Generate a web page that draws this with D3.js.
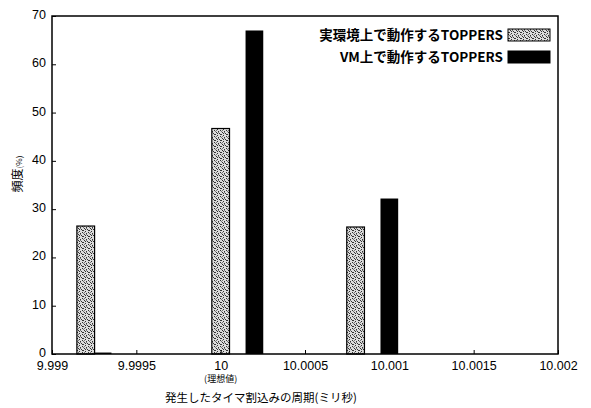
<!DOCTYPE html>
<html><head><meta charset="utf-8">
<script src="https://cdn.jsdelivr.net/npm/d3@7"></script>
<style>body{margin:0;background:#fff}svg{display:block}</style>
</head><body>
<svg id="c" width="591" height="408"></svg>
<script>
const seriesNames = ["実環境上で動作するTOPPERS", "VM上で動作するTOPPERS"];
const realX = [9.9992, 10.0000, 10.0008];
const realY = [26.5, 46.7, 26.3];
const vmX = [9.9993, 10.0002, 10.0010];
const vmY = [0.3, 67.0, 32.2];
const xTicks = [9.999, 9.9995, 10, 10.0005, 10.001, 10.0015, 10.002];
const xTickLabels = ["9.999", "9.9995", "10", "10.0005", "10.001", "10.0015", "10.002"];
const yTicks = [0, 10, 20, 30, 40, 50, 60, 70];
const binWidth = 0.000105;

const svg = d3.select("#c");
const m = {l: 52, r: 33, t: 16, b: 54};
const W = 591, H = 408;
const x = d3.scaleLinear().domain([9.999, 10.002]).range([m.l, W - m.r]);
const y = d3.scaleLinear().domain([0, 70]).range([H - m.b, m.t]);

// stipple pattern
const defs = svg.append("defs");
const pat = defs.append("pattern").attr("id", "stip").attr("patternUnits", "userSpaceOnUse")
  .attr("width", 6).attr("height", 6);
pat.append("rect").attr("width", 6).attr("height", 6).attr("fill", "#dcdcdc");
[[0,0],[3,1],[1,3],[4,4],[2,5],[5,2],[1,1],[4,2]].forEach(([a,b]) =>
  pat.append("rect").attr("x", a).attr("y", b).attr("width", 1).attr("height", 1).attr("fill", "#333"));
[[2,0],[5,5],[0,4]].forEach(([a,b]) =>
  pat.append("rect").attr("x", a).attr("y", b).attr("width", 1).attr("height", 1).attr("fill", "#777"));

const font = "'Liberation Sans', Arial, sans-serif";

// bars
const real = realX.map((v, i) => ({x: v, y: realY[i]}));
const vm = vmX.map((v, i) => ({x: v, y: vmY[i]}));
svg.append("g").selectAll("rect").data(real).join("rect")
  .attr("x", d => x(d.x - binWidth / 2)).attr("width", d => x(d.x + binWidth / 2) - x(d.x - binWidth / 2))
  .attr("y", d => y(d.y)).attr("height", d => y(0) - y(d.y))
  .attr("fill", "url(#stip)").attr("stroke", "#000").attr("stroke-width", 1.2);
svg.append("g").selectAll("rect").data(vm).join("rect")
  .attr("x", d => x(d.x - binWidth / 2)).attr("width", d => x(d.x + binWidth / 2) - x(d.x - binWidth / 2))
  .attr("y", d => y(d.y)).attr("height", d => Math.max(1, y(0) - y(d.y)))
  .attr("fill", "#000");

// axes
const xAxis = d3.axisBottom(x).tickValues(xTicks).tickFormat((d, i) => xTickLabels[i]).tickSize(-4).tickPadding(7);
const gx = svg.append("g").attr("transform", `translate(0,${H - m.b})`).call(xAxis);
const yAxis = d3.axisLeft(y).tickValues(yTicks).tickSize(-4).tickPadding(8);
const gy = svg.append("g").attr("transform", `translate(${m.l},0)`).call(yAxis);
[gx, gy].forEach(g => {
  g.select(".domain").remove();
  g.selectAll("text").attr("font-family", font).attr("font-size", 12.5).attr("fill", "#000");
  g.selectAll("line").attr("stroke", "#000");
});
gy.selectAll("text").attr("dx", 2).attr("dy", "0.2em");

// (理想値)
svg.append("text").attr("x", x(10)).attr("y", 382).attr("text-anchor", "middle")
  .attr("font-family", "'Noto Sans CJK JP'").attr("font-size", 9).text("(理想値)");

// frame
svg.append("rect").attr("x", m.l).attr("y", m.t).attr("width", W - m.r - m.l).attr("height", H - m.b - m.t)
  .attr("fill", "none").attr("stroke", "#000").attr("stroke-width", 1.5);

// axis titles
svg.append("text").attr("x", 261).attr("y", 402).attr("text-anchor", "middle")
  .attr("font-family", "'Noto Sans CJK JP'").attr("font-size", 11.5).attr("fill", "#000").text("発生したタイマ割込みの周期(ミリ秒)");
const yl = svg.append("text").attr("transform", "translate(22,174) rotate(-90)").attr("text-anchor", "middle")
  .attr("font-family", "'Noto Sans CJK JP'").attr("font-size", 12).attr("fill", "#000");
yl.append("tspan").text("頻度");
yl.append("tspan").attr("font-size", 8).text("(%)");

// legend
const leg = svg.append("g");
const lx = 503;
[0, 1].forEach(i => {
  const yy = 35 + i * 22;
  leg.append("text").attr("x", lx).attr("y", yy + 5).attr("text-anchor", "end")
    .attr("font-family", "'Noto Sans CJK JP', sans-serif").attr("font-weight", "bold").attr("font-size", 13.5)
    .text(seriesNames[i]);
  leg.append("rect").attr("x", lx + 5).attr("y", yy - 6).attr("width", 42).attr("height", 12)
    .attr("fill", i === 0 ? "url(#stip)" : "#000").attr("stroke", "#000").attr("stroke-width", 1);
});
</script>
</body></html>
